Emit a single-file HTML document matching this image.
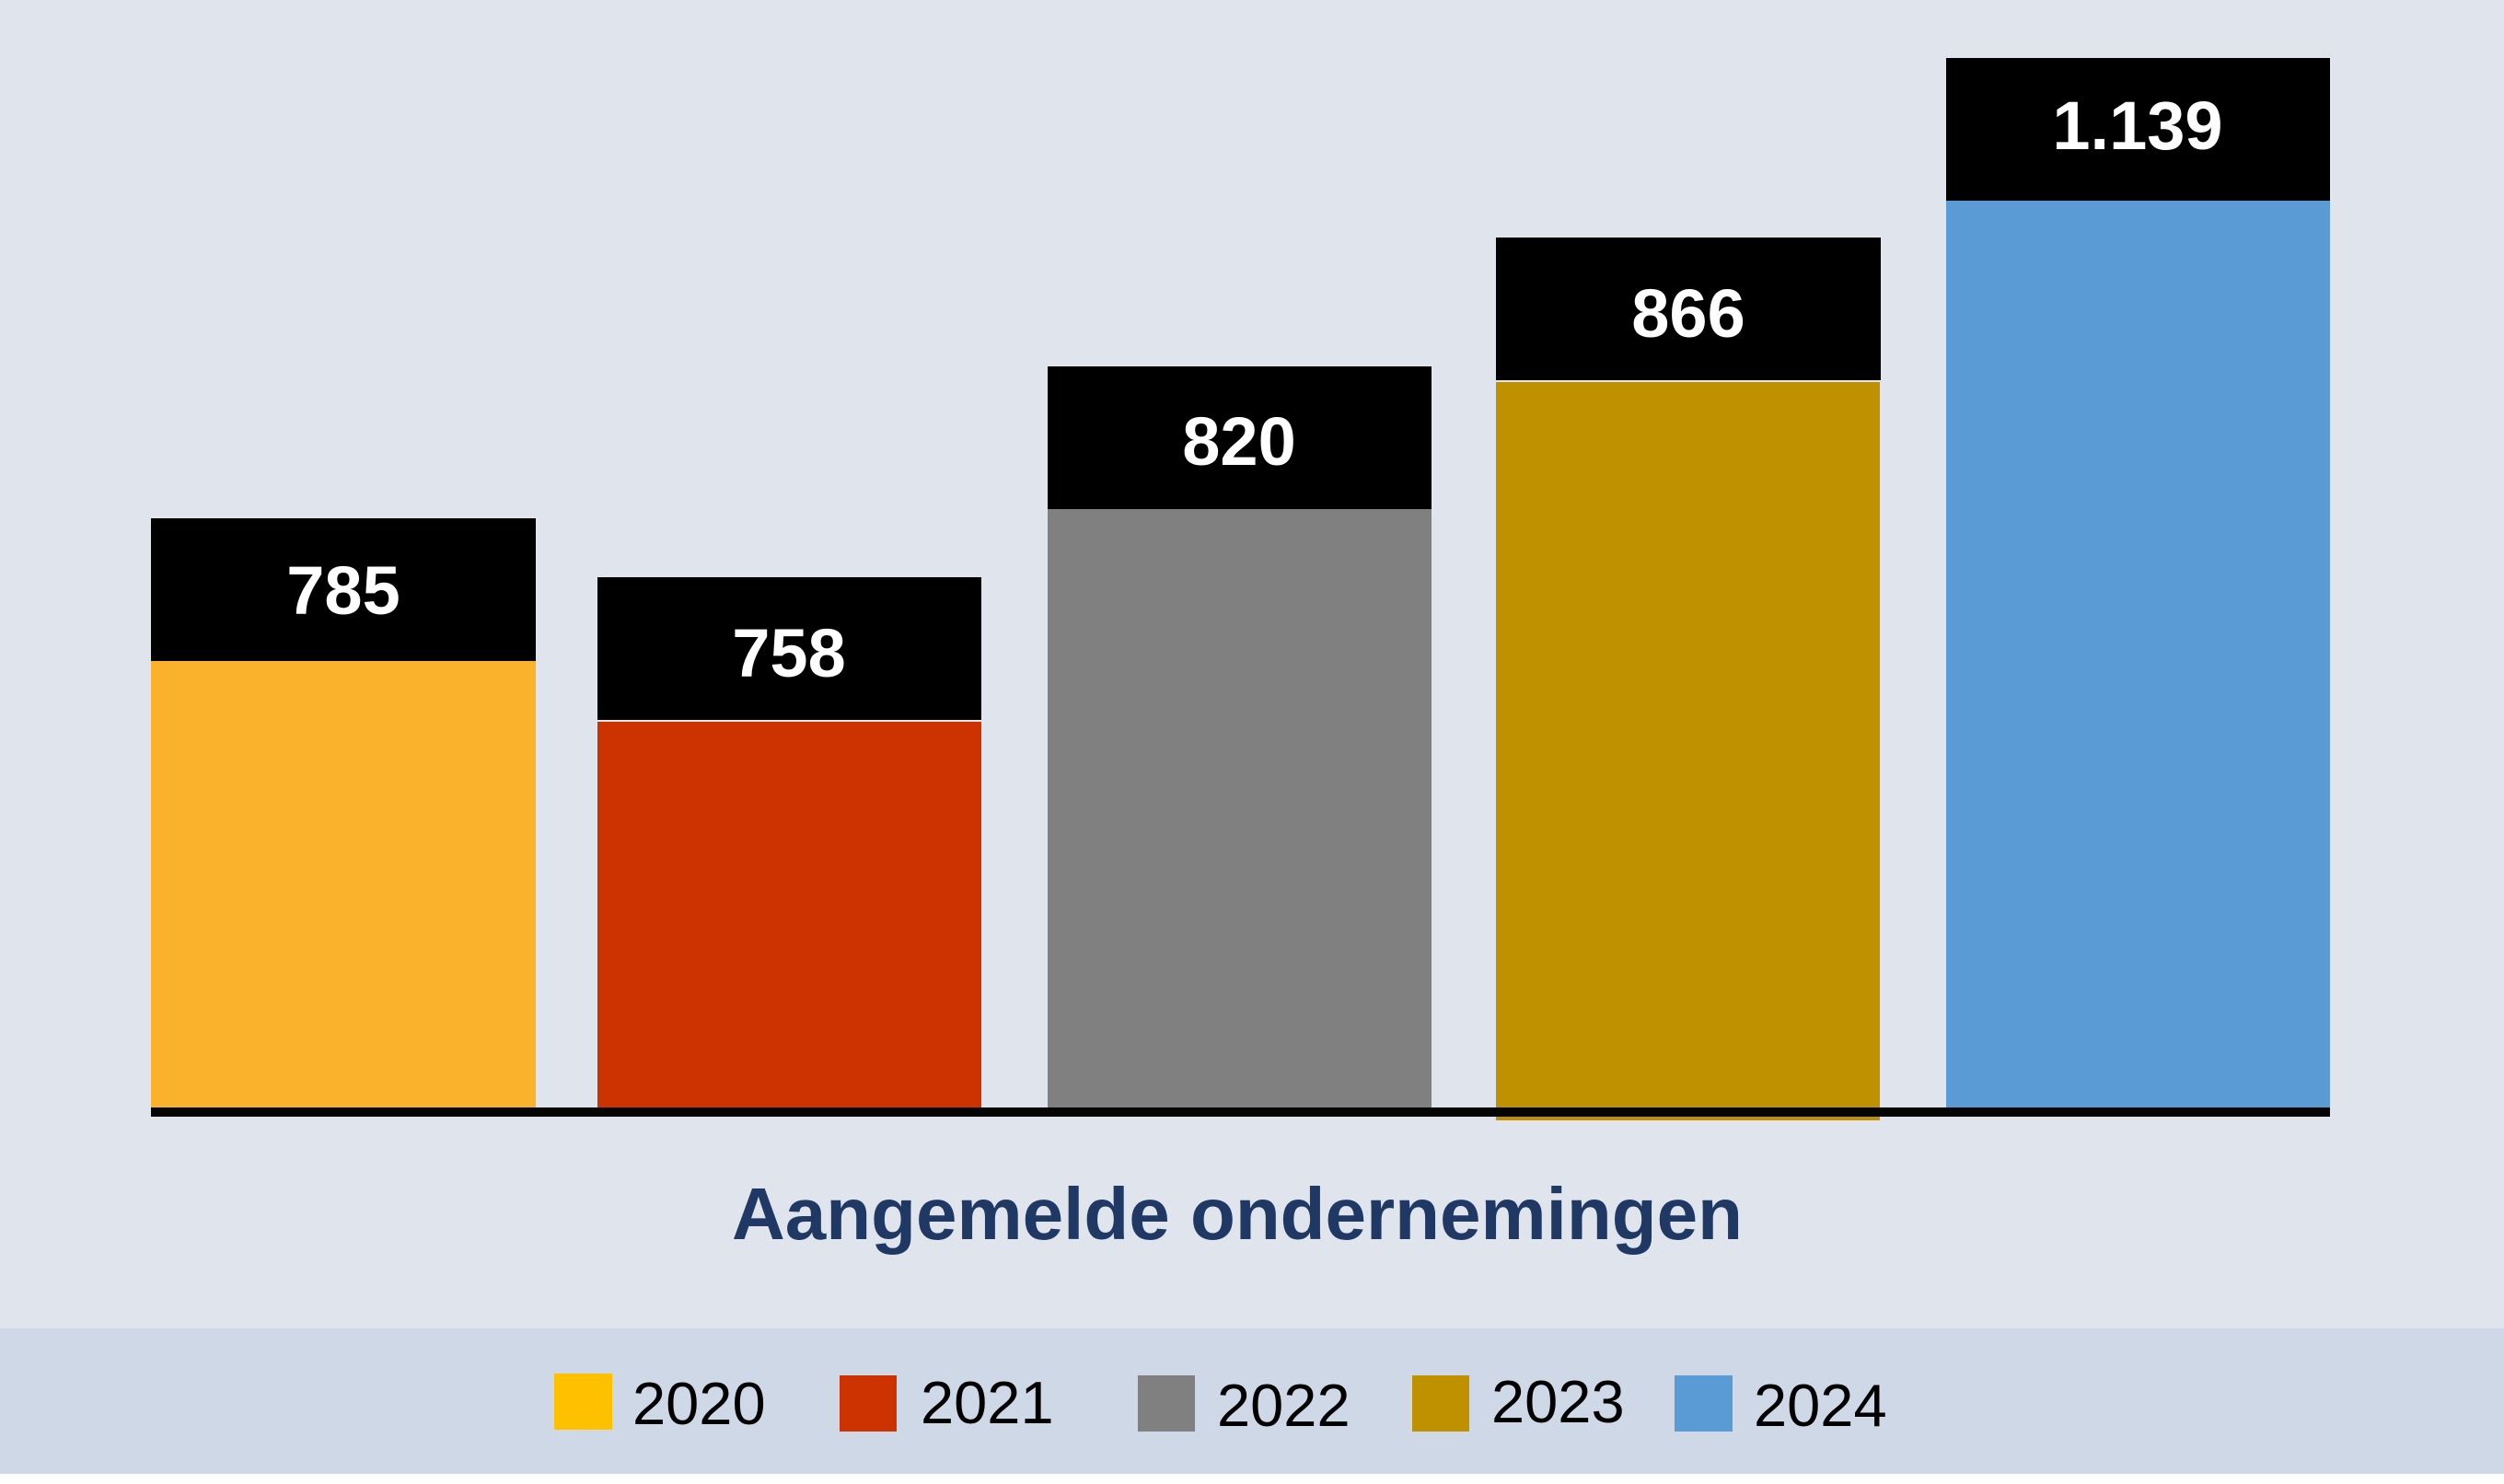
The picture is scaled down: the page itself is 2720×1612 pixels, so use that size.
<!DOCTYPE html>
<html>
<head>
<meta charset="utf-8">
<style>
  html, body { margin: 0; padding: 0; }
  body { width: 2720px; height: 1612px; overflow: hidden; background: #DFE4ED; }
  svg { display: block; }
</style>
</head>
<body>
<svg width="2720" height="1612" viewBox="0 0 2720 1612" xmlns="http://www.w3.org/2000/svg">
  <rect x="0" y="0" width="2720" height="1612" fill="#DFE4ED"/>
  <rect x="0" y="1443" width="2720" height="158" fill="#CED8E6"/>
  <rect x="0" y="1601" width="2720" height="11" fill="#FFFFFF"/>

  <!-- Bar 2020 -->
  <rect x="164" y="718" width="418" height="485" fill="#FAB22C"/>
  <rect x="164" y="563" width="418" height="155" fill="#000000"/>
  <!-- Bar 2021 -->
  <rect x="649" y="784" width="417" height="419" fill="#CC3300"/>
  <rect x="649" y="627" width="417" height="155" fill="#000000"/>
  <!-- Bar 2022 -->
  <rect x="1138" y="553" width="417" height="650" fill="#808080"/>
  <rect x="1138" y="398" width="417" height="155" fill="#000000"/>
  <!-- Bar 2023 -->
  <rect x="1625" y="415" width="417" height="802" fill="#BF9000"/>
  <rect x="1625" y="258" width="418" height="155" fill="#000000"/>
  <!-- Bar 2024 -->
  <rect x="2114" y="218" width="417" height="985" fill="#5B9BD5"/>
  <rect x="2114" y="63" width="417" height="155" fill="#000000"/>

  <!-- Axis -->
  <rect x="164" y="1203" width="2367" height="10" fill="#050505"/>

  <!-- Value labels -->
  <g font-family="'Liberation Sans', sans-serif" font-weight="bold" font-size="74" fill="#FFFFFF" text-anchor="middle">
    <text x="373" y="667">785</text>
    <text x="857" y="735">758</text>
    <text x="1346" y="505">820</text>
    <text x="1834" y="366">866</text>
    <text x="2322" y="162">1.139</text>
  </g>

  <!-- Title -->
  <text x="1344" y="1346" font-family="'Liberation Sans', sans-serif" font-weight="bold" font-size="80" fill="#1F3864" text-anchor="middle">Aangemelde ondernemingen</text>

  <!-- Legend -->
  <rect x="602" y="1492" width="63" height="61" fill="#FFC000"/>
  <rect x="912" y="1494" width="62" height="61" fill="#CC3300"/>
  <rect x="1236" y="1494" width="62" height="61" fill="#808080"/>
  <rect x="1534" y="1494" width="62" height="61" fill="#BF9000"/>
  <rect x="1819" y="1494" width="63" height="61" fill="#5B9BD5"/>
  <g font-family="'Liberation Sans', sans-serif" font-size="65" fill="#000000">
    <text x="687" y="1547">2020</text>
    <text x="1000" y="1546">2021</text>
    <text x="1322" y="1549">2022</text>
    <text x="1620" y="1545">2023</text>
    <text x="1905" y="1549">2024</text>
  </g>
</svg>
</body>
</html>
